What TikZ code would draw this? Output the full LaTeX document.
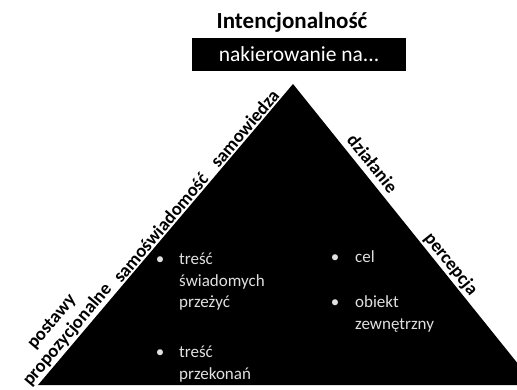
\documentclass[tikz,border=0pt]{standalone}
\usepackage{fontspec}
\setmainfont{Carlito}
\begin{document}
\begin{tikzpicture}[x=1pt,y=-1pt,
  edgelabel/.style={font=\fontsize{18.5}{20.5}\selectfont\bfseries, sloped, above, inner sep=1.5pt},
  bodyline/.style={font=\fontsize{17}{22}\selectfont, text=white!88!black, anchor=base west, inner sep=0pt},
  bulletdot/.style={font=\fontsize{17}{22}\selectfont, text=white!88!black, anchor=base, inner sep=0pt}]
\useasboundingbox (0,0) rectangle (517,390);
\clip (0,0) rectangle (517,390);
\fill[white] (0,0) rectangle (517,390);
\coordinate (bl) at (38,385);
\coordinate (apex) at (293,84);
\coordinate (br) at (535,385);
\fill[black] (bl) -- (apex) -- (br) -- cycle;
% title and box
\node[font=\fontsize{23}{26}\selectfont\bfseries, anchor=base, inner sep=0pt] (title) at (292,29) {Intencjonalność};
\node[fill=black, text=white, font=\fontsize{21.5}{24}\selectfont, minimum width=214pt, minimum height=33pt, inner sep=0pt] (box) at (299,54.5) {nakierowanie na...};
% edge labels
\path (bl) -- (apex)
  node[edgelabel, pos=0.145, align=center] (postawy) {postawy\\propozycjonalne}
  node[edgelabel, pos=0.505] (samosw) {samoświadomość}
  node[edgelabel, pos=0.835] (samow) {samowiedza};
\path (apex) -- (br)
  node[edgelabel, pos=0.29, above=4pt] (dzial) {działanie}
  node[edgelabel, pos=0.62] (perc) {percepcja};
% left list
\node[bulletdot] (b1) at (160,265) {•};
\node[bodyline] (l1) at (179,265) {treść};
\node[bodyline] (l2) at (179,287) {świadomych};
\node[bodyline] (l3) at (179,308) {przeżyć};
\node[bulletdot] (b2) at (160,357) {•};
\node[bodyline] (l4) at (179,357) {treść};
\node[bodyline] (l5) at (179,379) {przekonań};
% right list
\node[bulletdot] (b3) at (335,263) {•};
\node[bodyline] (r1) at (355,263) {cel};
\node[bulletdot] (b4) at (335,307) {•};
\node[bodyline] (r2) at (355,307) {obiekt};
\node[bodyline] (r3) at (355,329) {zewnętrzny};
\end{tikzpicture}
\end{document}
